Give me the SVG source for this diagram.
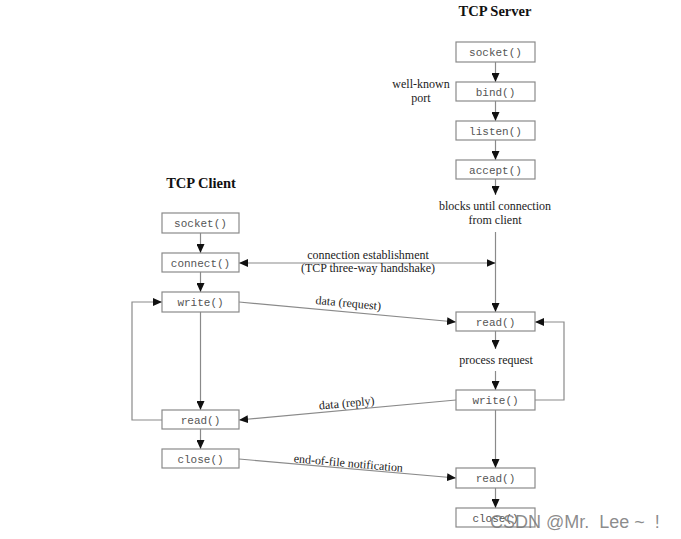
<svg xmlns="http://www.w3.org/2000/svg" width="681" height="539" viewBox="0 0 681 539">
<style>
.box{fill:#fff;stroke:#8a8a8a;stroke-width:1.2}
.fn{font-family:"Liberation Mono",monospace;font-size:11px;fill:#555;text-anchor:middle}
.lbl{font-family:"Liberation Serif",serif;font-size:12px;fill:#222;text-anchor:middle}
.title{font-family:"Liberation Serif",serif;font-size:14.5px;font-weight:bold;fill:#111;text-anchor:middle}
.ln{stroke:#8a8a8a;stroke-width:1.2;fill:none}
</style>
<defs>
<marker id="ah" markerUnits="userSpaceOnUse" markerWidth="10" markerHeight="8" refX="9" refY="4" orient="auto">
<path d="M0,0 L9,4 L0,8 Z" fill="#111"/>
</marker>
<marker id="ahs" markerUnits="userSpaceOnUse" markerWidth="10" markerHeight="8" refX="1" refY="4" orient="auto">
<path d="M10,0 L1,4 L10,8 Z" fill="#111"/>
</marker>
</defs>
<rect width="681" height="539" fill="#fff"/>
<text class="title" x="495" y="16">TCP Server</text>
<text class="title" x="201" y="188">TCP Client</text>
<g id="connectors">
<line class="ln" x1="495.5" y1="62" x2="495.5" y2="82" marker-end="url(#ah)"/>
<line class="ln" x1="495.5" y1="101" x2="495.5" y2="121" marker-end="url(#ah)"/>
<line class="ln" x1="495.5" y1="140" x2="495.5" y2="160" marker-end="url(#ah)"/>
<line class="ln" x1="495.5" y1="179" x2="495.5" y2="195" marker-end="url(#ah)"/>
<line class="ln" x1="495.5" y1="232" x2="495.5" y2="312" marker-end="url(#ah)"/>
<line class="ln" x1="495.5" y1="331" x2="495.5" y2="349" marker-end="url(#ah)"/>
<line class="ln" x1="495.5" y1="371" x2="495.5" y2="390" marker-end="url(#ah)"/>
<line class="ln" x1="495.5" y1="410" x2="495.5" y2="468" marker-end="url(#ah)"/>
<line class="ln" x1="495.5" y1="488" x2="495.5" y2="508" marker-end="url(#ah)"/>
<polyline class="ln" points="535,400 564,400 564,322 535,322" marker-end="url(#ah)"/>
<line class="ln" x1="200.5" y1="233" x2="200.5" y2="253" marker-end="url(#ah)"/>
<line class="ln" x1="200.5" y1="272" x2="200.5" y2="292" marker-end="url(#ah)"/>
<line class="ln" x1="200.5" y1="312" x2="200.5" y2="410" marker-end="url(#ah)"/>
<line class="ln" x1="200.5" y1="429" x2="200.5" y2="449" marker-end="url(#ah)"/>
<polyline class="ln" points="162,420 132,420 132,302 162,302" marker-end="url(#ah)"/>
<line class="ln" x1="239" y1="263" x2="495.5" y2="263" marker-start="url(#ahs)" marker-end="url(#ah)"/>
<line class="ln" x1="239" y1="302" x2="456" y2="322" marker-end="url(#ah)"/>
<line class="ln" x1="456" y1="400" x2="239" y2="420" marker-end="url(#ah)"/>
<line class="ln" x1="239" y1="459" x2="456" y2="478" marker-end="url(#ah)"/>
</g>
<text class="lbl" x="421" y="88">well-known</text>
<text class="lbl" x="421" y="102">port</text>
<text class="lbl" x="495" y="210">blocks until connection</text>
<text class="lbl" x="495" y="224">from client</text>
<text class="lbl" x="368" y="259">connection establishment</text>
<text class="lbl" x="368" y="272">(TCP three-way handshake)</text>
<text class="lbl" x="348" y="307" transform="rotate(5.3 348 307)">data (request)</text>
<text class="lbl" x="496" y="364">process request</text>
<text class="lbl" x="347" y="407" transform="rotate(-5.3 347 407)">data (reply)</text>
<text class="lbl" x="348" y="467" transform="rotate(5 348 467)">end-of-file notification</text>
<g id="s-socket"><rect class="box" x="456" y="42" width="79" height="20"/><text class="fn" x="495.5" y="56">socket()</text></g>
<g id="s-bind"><rect class="box" x="456" y="82" width="79" height="19"/><text class="fn" x="495.5" y="95.5">bind()</text></g>
<g id="s-listen"><rect class="box" x="456" y="121" width="79" height="19"/><text class="fn" x="495.5" y="134.5">listen()</text></g>
<g id="s-accept"><rect class="box" x="456" y="160" width="79" height="19"/><text class="fn" x="495.5" y="173.5">accept()</text></g>
<g id="s-read"><rect class="box" x="456" y="312" width="79" height="19"/><text class="fn" x="495.5" y="325.5">read()</text></g>
<g id="s-write"><rect class="box" x="456" y="390" width="79" height="20"/><text class="fn" x="495.5" y="404">write()</text></g>
<g id="s-read2"><rect class="box" x="456" y="468" width="79" height="20"/><text class="fn" x="495.5" y="482">read()</text></g>
<g id="s-close"><rect class="box" x="456" y="508" width="79" height="19"/><text class="fn" x="495.5" y="521.5">close()</text></g>
<g id="c-socket"><rect class="box" x="162" y="213" width="77" height="20"/><text class="fn" x="200.5" y="227">socket()</text></g>
<g id="c-connect"><rect class="box" x="162" y="253" width="77" height="19"/><text class="fn" x="200.5" y="266.5">connect()</text></g>
<g id="c-write"><rect class="box" x="162" y="292" width="77" height="20"/><text class="fn" x="200.5" y="306">write()</text></g>
<g id="c-read"><rect class="box" x="162" y="410" width="77" height="19"/><text class="fn" x="200.5" y="423.5">read()</text></g>
<g id="c-close"><rect class="box" x="162" y="449" width="77" height="19"/><text class="fn" x="200.5" y="462.5">close()</text></g>
<text x="490" y="528" font-family="Liberation Sans, sans-serif" font-size="18" fill="#777" fill-opacity="0.85" xml:space="preserve">CSDN @Mr.  Lee ~  !</text>
</svg>
